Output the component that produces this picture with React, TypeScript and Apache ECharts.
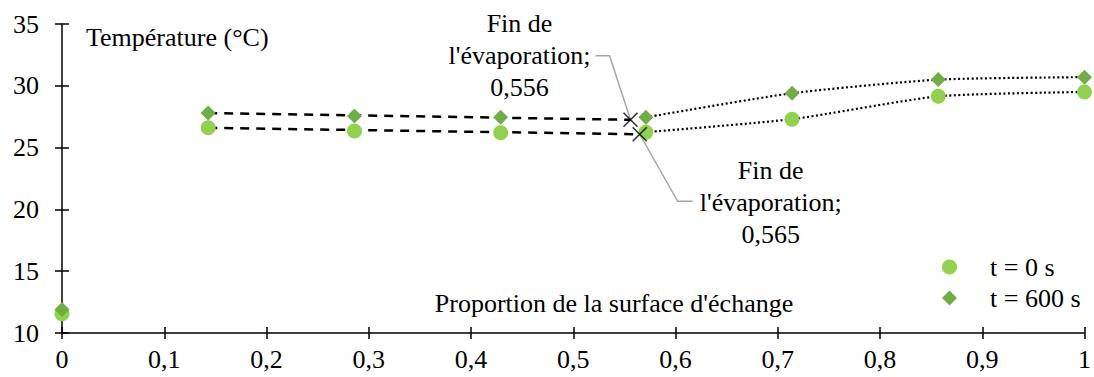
import React, { useEffect, useRef } from "react";
import * as echarts from "echarts";

const proportion = [0, 0.143, 0.286, 0.429, 0.571, 0.714, 0.857, 1];
const temp0 = [11.55, 26.6, 26.35, 26.2, 26.25, 27.3, 29.15, 29.5];
const temp600 = [11.9, 27.8, 27.55, 27.45, 27.45, 29.4, 30.5, 30.7];

const dashedUpper = [[0.143, 27.8], [0.556, 27.25]];
const dashedLower = [[0.143, 26.6], [0.565, 26.08]];
const dottedUpper = [[0.571, 27.45], [0.714, 29.4], [0.857, 30.5], [1, 30.7]];
const dottedLower = [[0.571, 26.25], [0.714, 27.3], [0.857, 29.15], [1, 29.5]];
const evapEnd = [[0.556, 27.25], [0.565, 26.08]];
const evapLabels = ["Fin de\nl'évaporation;\n0,556", "Fin de\nl'évaporation;\n0,565"];

const xTicks = ["0", "0,1", "0,2", "0,3", "0,4", "0,5", "0,6", "0,7", "0,8", "0,9", "1"];

const FONT = "'Liberation Serif', 'Times New Roman', Tinos, 'DejaVu Serif', serif";
const FS = 26;

export default function App() {
  const ref = useRef<HTMLDivElement>(null);
  useEffect(() => {
    const chart = echarts.init(ref.current!, null, { renderer: "svg" });
    const axisText = { fontFamily: FONT, fontSize: FS, color: "#000" };
    const baseX = {
      type: "value",
      min: 0,
      max: 1,
      interval: 0.1,
      splitLine: { show: false },
    };
    const baseY = {
      type: "value",
      min: 10,
      max: 35,
      interval: 5,
      splitLine: { show: false },
    };
    chart.setOption({
      animation: false,
      textStyle: { fontFamily: FONT },
      grid: { left: 62, right: 8, top: 24, bottom: 44 },
      xAxis: [
        {
          ...baseX,
          axisLine: { lineStyle: { color: "#000", width: 1.5 } },
          axisTick: { length: 6, lineStyle: { color: "#000", width: 1.5 } },
          axisLabel: {
            ...axisText,
            margin: 13,
            formatter: (v: number) => xTicks[Math.round(v * 10)],
          },
        },
        {
          ...baseX,
          position: "bottom",
          axisLine: { show: false },
          axisTick: { inside: true, length: 6, lineStyle: { color: "#000", width: 1.5 } },
          axisLabel: { show: false },
        },
      ],
      yAxis: [
        {
          ...baseY,
          axisLine: { show: true, lineStyle: { color: "#000", width: 1.5 } },
          axisTick: { show: true, length: 7, lineStyle: { color: "#000", width: 1.5 } },
          axisLabel: { ...axisText, margin: 23 },
        },
        {
          ...baseY,
          position: "left",
          axisLine: { show: false },
          axisTick: { show: true, inside: true, length: 7, lineStyle: { color: "#000", width: 1.5 } },
          axisLabel: { show: false },
        },
      ],
      legend: {
        orient: "vertical",
        left: 937,
        top: 249,
        itemWidth: 15,
        itemHeight: 15,
        itemGap: 5,
        textStyle: { ...axisText, lineHeight: 26, padding: [0, 0, 0, 28] },
        data: [
          { name: "t = 0 s", icon: "circle" },
          { name: "t = 600 s", icon: "diamond" },
        ],
      },
      series: [
        {
          type: "line",
          data: dashedUpper,
          symbol: "none",
          lineStyle: { color: "#000", width: 2.5, type: [9, 7] },
          silent: true,
        },
        {
          type: "line",
          data: dashedLower,
          symbol: "none",
          lineStyle: { color: "#000", width: 2.5, type: [9, 7] },
          silent: true,
        },
        {
          type: "line",
          data: dottedUpper,
          symbol: "none",
          smooth: 0.2,
          lineStyle: { color: "#000", width: 2.2, type: [2, 2.5] },
          silent: true,
        },
        {
          type: "line",
          data: dottedLower,
          symbol: "none",
          smooth: 0.2,
          lineStyle: { color: "#000", width: 2.2, type: [2, 2.5] },
          silent: true,
        },
        {
          name: "t = 0 s",
          type: "scatter",
          symbol: "circle",
          symbolSize: 15,
          itemStyle: { color: "#92D050", opacity: 1 },
          data: proportion.map((x, i) => [x, temp0[i]]),
          z: 5,
        },
        {
          name: "t = 600 s",
          type: "scatter",
          symbol: "diamond",
          symbolSize: 15,
          itemStyle: { color: "#70AD47", opacity: 1 },
          data: proportion.map((x, i) => [x, temp600[i]]),
          z: 6,
        },
        {
          type: "scatter",
          symbol: "path://M0,0L10,10M10,0L0,10",
          symbolSize: 14,
          itemStyle: { color: "none", borderColor: "#000", borderWidth: 1.6 },
          data: evapEnd,
          z: 7,
        },
      ],
    });

    const p = evapEnd.map((d) => chart.convertToPixel({ seriesIndex: 0 }, d) as number[]);
    const gray = { stroke: "#A6A6A6", lineWidth: 1.5, fill: "none" };
    const font = `${FS}px ${FONT}`;
    const txt = (x: number, y: number, t: string) => ({
      type: "text",
      x,
      y,
      style: {
        text: t,
        font,
        fill: "#000",
        align: "center",
        verticalAlign: "middle",
        lineHeight: 32,
      },
    });
    chart.setOption({
      graphic: [
        {
          type: "polyline",
          shape: { points: [[p[0][0] - 35, p[0][1] - 64], [p[0][0] - 21, p[0][1] - 64], [p[0][0], p[0][1]]] },
          style: gray,
          z: 1,
        },
        {
          type: "polyline",
          shape: { points: [[p[1][0], p[1][1]], [p[1][0] + 38, p[1][1] + 67], [p[1][0] + 53, p[1][1] + 67]] },
          style: gray,
          z: 1,
        },
        txt(p[0][0] - 111, p[0][1] - 64, evapLabels[0]),
        txt(p[1][0] + 131, p[1][1] + 68, evapLabels[1]),
        {
          type: "text",
          x: 86,
          y: 37,
          style: { text: "Température (°C)", font, fill: "#000", verticalAlign: "middle" },
        },
        {
          type: "text",
          x: 614,
          y: 303,
          style: {
            text: "Proportion de la surface d'échange",
            font,
            fill: "#000",
            align: "center",
            verticalAlign: "middle",
          },
        },
      ],
    });
    return () => chart.dispose();
  }, []);
  return (
    <div
      ref={ref}
      style={{ position: "fixed", left: 0, top: 0, width: 1094, height: 377, background: "#fff" }}
    />
  );
}
